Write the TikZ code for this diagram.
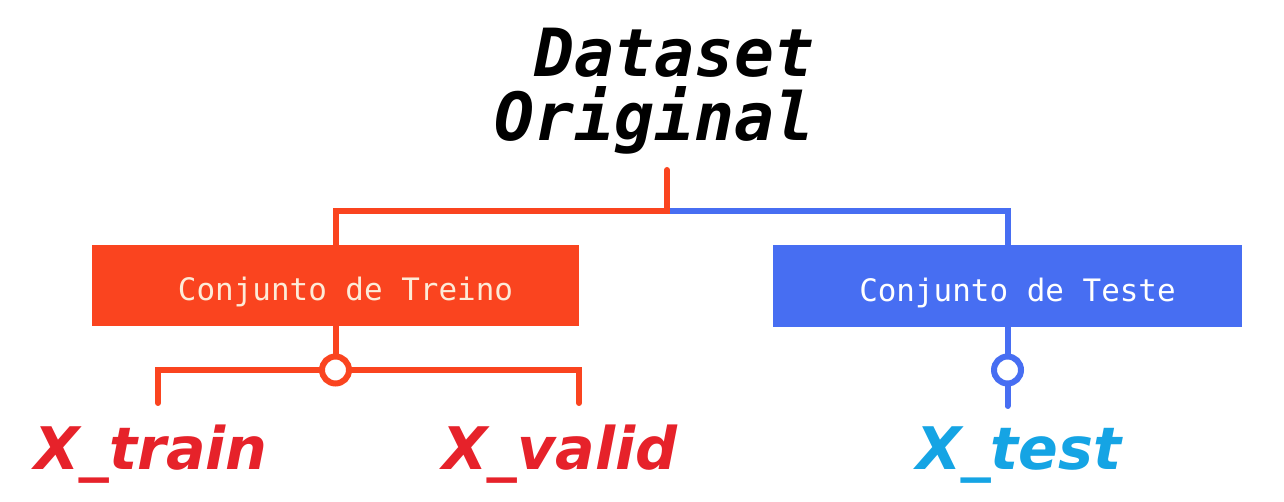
\documentclass[tikz,border=0pt]{standalone}
\usepackage{fontspec}
\usepackage{tikz}
\newfontfamily\monofont{DejaVu Sans Mono}
\newfontfamily\handfont{DejaVu Sans}
\definecolor{treinoC}{HTML}{FA441F}
\definecolor{testeC}{HTML}{476EF2}
\definecolor{creme}{HTML}{FDEBD8}
\definecolor{labRed}{HTML}{E6222A}
\definecolor{labBlue}{HTML}{15A4E4}
\tikzset{
  caixa/.style={rectangle, fill=#1, minimum height=1.63cm, inner sep=0pt, text height=17.4pt, text depth=0pt,
                font=\monofont\fontsize{17.6}{20}\selectfont},
  liga/.style={draw=#1, line width=0.12cm, line cap=round},
  ponto/.style={circle, draw=#1, fill=white, line width=0.12cm, minimum size=0.54cm, inner sep=0pt},
  rotulo/.style={text=#1, inner sep=0pt, anchor=base,
                 font=\handfont\bfseries\itshape\fontsize{33.4}{36}\selectfont},
}

\begin{document}
\begin{tikzpicture}[x=0.02cm, y=-0.02cm]
\useasboundingbox (0,0) rectangle (1284,502);
\node[anchor=north east, inner sep=0pt, align=right, font=\monofont\bfseries\itshape\fontsize{37.8}{36}\selectfont] (dataset) at (815,28) {Dataset\\Original};
\coordinate (raiz) at (667,170);
\coordinate (fork) at (667,211);
\node[caixa=treinoC, text=creme, minimum width=9.74cm] (treino) at (335.5,285.5) {\hspace*{0.4cm}Conjunto de Treino};
\node[caixa=testeC, text=white, minimum width=9.38cm] (teste) at (1007.5,286) {\hspace*{0.4cm}Conjunto de Teste};
\node[ponto=treinoC] (ctr) at (335.5,370) {};
\node[ponto=testeC] (cte) at (1007.5,370) {};
\coordinate (trainfim) at (158,403);
\coordinate (validfim) at (579,403);
\coordinate (testfim) at (1007.5,406);
\draw[liga=testeC] (fork) -| (teste.north);
\draw[liga=treinoC] (raiz) -- (fork) -| (treino.north);
\draw[liga=treinoC] (treino.south) -- (ctr.north);
\draw[liga=treinoC] (trainfim) |- (ctr.west);
\draw[liga=treinoC] (validfim) |- (ctr.east);
\draw[liga=testeC] (teste.south) -- (cte.north);
\draw[liga=testeC] (cte.south) -- (testfim);
\node[rotulo=labRed] (xtrain) at (151,470) {X\_train};
\node[rotulo=labRed] (xvalid) at (560,470) {X\_valid};
\node[rotulo=labBlue] (xtest) at (1019,470) {X\_test};
\end{tikzpicture}
\end{document}
